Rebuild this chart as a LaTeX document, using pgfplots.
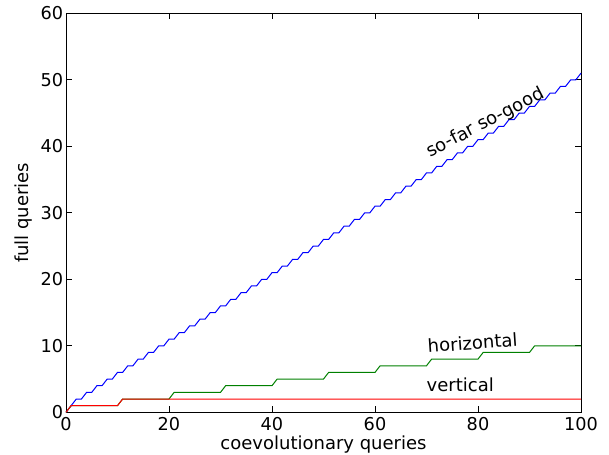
\documentclass[border=0pt]{standalone}
\usepackage{pgfplots}
\pgfplotsset{compat=1.18}
\usepackage{fontspec}
\setmainfont{DejaVu Sans}
\newcommand{\fs}{\fontsize{18bp}{21bp}\selectfont}
\newcommand{\ft}{\fontsize{17.7bp}{21bp}\selectfont}
\begin{document}
\begin{tikzpicture}
\useasboundingbox (-66bp,-42.7bp) rectangle (543bp,412.3bp);
\begin{axis}[
  at={(0,0)}, anchor=south west,
  scale only axis, width=515bp, height=399bp,
  xmin=0, xmax=100, ymin=0, ymax=60,
  xtick={0,20,40,60,80,100}, ytick={0,10,20,30,40,50,60},
  tick align=inside, major tick length=6bp,
  xtick pos=both, ytick pos=both,
  tick style={black, line width=0.8bp},
  axis line style={black, line width=1bp},
  /pgf/number format/assume math mode=true,
  every tick label/.append style={font=\ft},
  xticklabel style={inner sep=0pt, anchor=north, yshift=-4.4bp},
  yticklabel style={inner sep=0pt, anchor=east, xshift=-2.7bp},
  label style={font=\fs},
  xlabel={coevolutionary queries},
  ylabel={full queries},
  xlabel style={at={(axis description cs:0.5,0)}, anchor=base, yshift=-36.7bp, inner sep=0pt},
  ylabel style={at={(axis description cs:0,0.5)}, anchor=base, yshift=37bp, inner sep=0pt},
  clip=false,
]
\addplot[blue, line width=1bp] coordinates {
(0,0)(1,1)(2,2)(3,2)(4,3)(5,3)(6,4)(7,4)(8,5)(9,5)(10,6)(11,6)(12,7)(13,7)(14,8)(15,8)(16,9)(17,9)(18,10)(19,10)(20,11)(21,11)(22,12)(23,12)(24,13)(25,13)(26,14)(27,14)(28,15)(29,15)(30,16)(31,16)(32,17)(33,17)(34,18)(35,18)(36,19)(37,19)(38,20)(39,20)(40,21)(41,21)(42,22)(43,22)(44,23)(45,23)(46,24)(47,24)(48,25)(49,25)(50,26)(51,26)(52,27)(53,27)(54,28)(55,28)(56,29)(57,29)(58,30)(59,30)(60,31)(61,31)(62,32)(63,32)(64,33)(65,33)(66,34)(67,34)(68,35)(69,35)(70,36)(71,36)(72,37)(73,37)(74,38)(75,38)(76,39)(77,39)(78,40)(79,40)(80,41)(81,41)(82,42)(83,42)(84,43)(85,43)(86,44)(87,44)(88,45)(89,45)(90,46)(91,46)(92,47)(93,47)(94,48)(95,48)(96,49)(97,49)(98,50)(99,50)(100,51)
};
\addplot[color={rgb,1:red,0;green,0.5;blue,0}, line width=1bp] coordinates {
(0,0)(1,1)(10,1)(11,2)(20,2)(21,3)(30,3)(31,4)(40,4)(41,5)(50,5)(51,6)(60,6)(61,7)(70,7)(71,8)(80,8)(81,9)(90,9)(91,10)(100,10)
};
\addplot[red, line width=1bp] coordinates {
(0,0)(1,1)(10,1)(11,2)(100,2)
};
\node[font=\fs, anchor=base west, inner sep=0pt, rotate=27.5] at (axis cs:70.7,38.3) {so-far so-good};
\node[font=\fs, anchor=base west, inner sep=0pt, rotate=4] at (axis cs:70.3,8.97) {horizontal};
\node[font=\fs, anchor=base west, inner sep=0pt] at (axis cs:70.0,3.1) {vertical};
\end{axis}
\end{tikzpicture}
\end{document}
